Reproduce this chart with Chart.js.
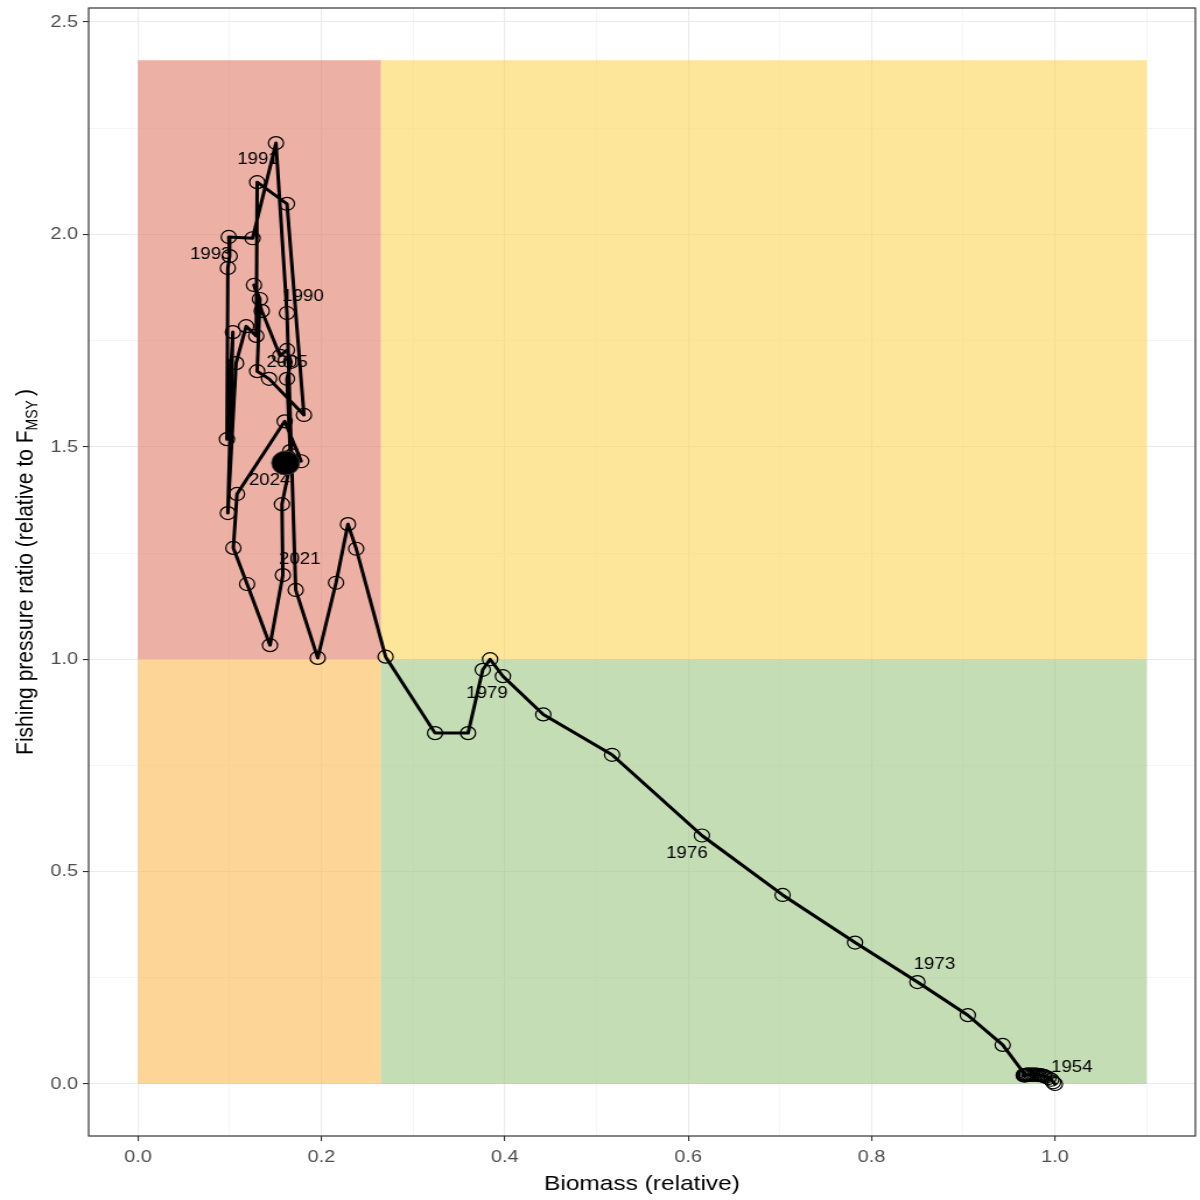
<!DOCTYPE html>
<html>
<head>
<meta charset="utf-8">
<script src="https://cdn.jsdelivr.net/npm/chart.js@4.4.0/dist/chart.umd.min.js"></script>
<style>
  html, body { margin: 0; padding: 0; background: #fff; }
</style>
</head>
<body>
<canvas id="kobe" width="1029" height="1200" style="display:block;width:1200px;height:1200px;"></canvas>
<script>
// Kobe plot: fishing pressure vs biomass, one point per year

const years = [];
for (let yr = 1950; yr <= 2024; yr++) years.push(yr);

const biomass = [
    1.000, 0.998, 0.996, 0.993, 0.990, 0.988, 0.986, 0.984, 0.982, 0.980,
    0.978, 0.976, 0.974, 0.972, 0.970, 0.969, 0.968, 0.967, 0.966, 0.966,
    0.968, 0.943, 0.905, 0.850, 0.782, 0.703, 0.615, 0.517, 0.442, 0.398,
    0.384, 0.376, 0.360, 0.324, 0.270, 0.238, 0.229, 0.216, 0.196, 0.172,
    0.1625, 0.1505, 0.125, 0.099, 0.100, 0.098, 0.097, 0.1035, 0.098, 0.107,
    0.118, 0.129, 0.130, 0.1625, 0.181, 0.143, 0.130, 0.133, 0.1265, 0.135,
    0.155, 0.1625, 0.167, 0.1625, 0.166, 0.178, 0.160, 0.108, 0.104, 0.119,
    0.144, 0.158, 0.157, 0.168, 0.161
];

const fishing = [
    0.000, 0.004, 0.010, 0.014, 0.017, 0.019, 0.020, 0.021, 0.021, 0.022,
    0.022, 0.022, 0.022, 0.022, 0.022, 0.022, 0.021, 0.021, 0.021, 0.020,
    0.020, 0.092, 0.162, 0.240, 0.333, 0.445, 0.585, 0.775, 0.870, 0.960,
    1.000, 0.975, 0.826, 0.826, 1.006, 1.260, 1.318, 1.180, 1.003, 1.163,
    1.815, 2.215, 1.991, 1.994, 1.949, 1.921, 1.518, 1.770, 1.344, 1.697,
    1.784, 1.761, 2.123, 2.072, 1.575, 1.660, 1.678, 1.848, 1.881, 1.820,
    1.714, 1.728, 1.700, 1.660, 1.490, 1.466, 1.560, 1.389, 1.262, 1.177,
    1.033, 1.198, 1.365, 1.480, 1.462
];

// status zones: biomass breaks, fishing breaks
const zoneX = [0, 0.265, 1.1];
const zoneY = [0, 1, 2.41];

const xTicks = [0, 0.1, 0.2, 0.3, 0.4, 0.5, 0.6, 0.7, 0.8, 0.9, 1.0, 1.1];
const yTicks = [0, 0.25, 0.5, 0.75, 1.0, 1.25, 1.5, 1.75, 2.0, 2.25, 2.5];

const labelYears = [1954, 1973, 1976, 1979, 1990, 1991, 1993, 2005, 2021, 2024];

// picture was stretched sideways when it was saved
const SX = 1200 / 1029;
const FONT = '"Liberation Sans", Arial, Helvetica, sans-serif';

// where the repelled labels sit relative to their point (screen px)
const labelNudge = {
    1954: [26, -9], 1973: [17, -17], 1976: [-15, 18], 1979: [-16, 17],
    1990: [16, -16], 1991: [-18, 17], 1993: [-18, 18], 2005: [18, -16],
    2021: [17, -16], 2024: [-16, 18]
};

const zoneColours = [
    ['rgba(252,185,82,0.6)', 'rgba(158,198,132,0.6)'],   // F < Fmsy
    ['rgba(225,123,103,0.6)', 'rgba(252,212,87,0.6)']    // F > Fmsy
];

const isMajorX = v => Math.abs(v * 5 - Math.round(v * 5)) < 1e-6;
const isMajorY = v => Math.abs(v * 2 - Math.round(v * 2)) < 1e-6;

const noOverhang = s => {
    s.paddingLeft = 0; s.paddingRight = 0;
    s.paddingTop = 0; s.paddingBottom = 0;
};

const kobePlugin = {
    id: 'kobe',
    beforeDatasetsDraw(chart) {
        const { ctx, chartArea: a, scales: { x, y } } = chart;
        ctx.save();
        ctx.beginPath();
        ctx.rect(a.left, a.top, a.width, a.height);
        ctx.clip();
        for (let j = 0; j < 2; j++) {
            for (let i = 0; i < 2; i++) {
                const x0 = x.getPixelForValue(zoneX[i]), x1 = x.getPixelForValue(zoneX[i + 1]);
                const y0 = y.getPixelForValue(zoneY[j]), y1 = y.getPixelForValue(zoneY[j + 1]);
                ctx.fillStyle = zoneColours[j][i];
                ctx.fillRect(x0, y1, x1 - x0, y0 - y1);
            }
        }
        ctx.font = '16px ' + FONT;
        ctx.fillStyle = '#000';
        ctx.textAlign = 'center';
        ctx.textBaseline = 'middle';
        labelYears.forEach(yr => {
            const k = years.indexOf(yr);
            const n = labelNudge[yr];
            const px = x.getPixelForValue(biomass[k]) + n[0] / SX;
            const py = y.getPixelForValue(fishing[k]) + n[1];
            ctx.fillText(String(yr), px, py);
        });
        ctx.restore();
    },
    afterDraw(chart) {
        const { ctx, chartArea: a } = chart;
        ctx.save();
        ctx.strokeStyle = '#333333';
        ctx.lineWidth = 1.2;
        ctx.strokeRect(a.left, a.top, a.width, a.height);

        ctx.fillStyle = '#000';
        ctx.font = '21px ' + FONT;
        ctx.textAlign = 'center';
        ctx.textBaseline = 'alphabetic';
        ctx.fillText('Biomass (relative)', (a.left + a.right) / 2, 1190);

        // y title with subscript
        const main = 'Fishing pressure ratio (relative to F';
        const sub = 'MSY';
        const close = ')';
        ctx.font = '21px ' + FONT;
        const w1 = ctx.measureText(main).width;
        const w3 = ctx.measureText(close).width;
        ctx.font = '14px ' + FONT;
        const w2 = ctx.measureText(sub).width;
        const gap = 4;
        const total = w1 + w2 + gap + w3;
        ctx.translate(27.5, (a.top + a.bottom) / 2);
        ctx.rotate(-Math.PI / 2);
        ctx.textAlign = 'left';
        let cx = -total / 2;
        ctx.font = '21px ' + FONT;
        ctx.fillText(main, cx, 0);
        cx += w1;
        ctx.font = '14px ' + FONT;
        ctx.fillText(sub, cx, 4);
        cx += w2 + gap;
        ctx.font = '21px ' + FONT;
        ctx.fillText(close, cx, 0);
        ctx.restore();
    }
};

const points = years.map((yr, i) => ({ x: biomass[i], y: fishing[i] }));
const last = points.length - 1;

const kobeChart = new Chart(document.getElementById('kobe').getContext('2d'), {
    type: 'scatter',
    data: {
        datasets: [{
            data: [points[last]],
            pointRadius: 12,
            pointBackgroundColor: '#000',
            pointBorderColor: 'rgba(60,60,60,0.9)',
            pointBorderWidth: 1,
            order: 1
        }, {
            data: points,
            showLine: true,
            borderColor: '#000',
            borderWidth: 3,
            borderJoinStyle: 'round',
            borderCapStyle: 'round',
            pointRadius: 6.5,
            pointBorderWidth: 1.2,
            pointBorderColor: '#000',
            pointBackgroundColor: 'rgba(0,0,0,0)',
            order: 2
        }]
    },
    options: {
        responsive: false,
        animation: false,
        devicePixelRatio: 1,
        layout: { autoPadding: false, padding: { top: 8, right: 4, left: 0, bottom: 0 } },
        plugins: { legend: { display: false }, tooltip: { enabled: false } },
        scales: {
            x: {
                type: 'linear',
                min: -0.0538,
                max: 1.1531,
                afterBuildTicks: s => { s.ticks = xTicks.map(v => ({ value: v })); },
                afterFit: s => { s.height = 64; noOverhang(s); },
                border: { display: false },
                grid: {
                    color: c => isMajorX(c.tick.value) ? '#EBEBEB' : '#F3F3F3',
                    lineWidth: c => isMajorX(c.tick.value) ? 1.1 : 0.8,
                    tickColor: c => isMajorX(c.tick.value) ? '#333333' : 'rgba(0,0,0,0)',
                    tickLength: 5,
                    tickWidth: 1.1
                },
                ticks: {
                    autoSkip: false,
                    maxRotation: 0,
                    padding: 6,
                    color: '#4D4D4D',
                    font: { size: 17, family: FONT },
                    callback: v => isMajorX(v) ? v.toFixed(1) : ''
                }
            },
            y: {
                type: 'linear',
                min: -0.1224,
                max: 2.533,
                afterBuildTicks: s => { s.ticks = yTicks.map(v => ({ value: v })); },
                afterFit: s => { s.width = 76; noOverhang(s); },
                border: { display: false },
                grid: {
                    color: c => isMajorY(c.tick.value) ? '#EBEBEB' : '#F3F3F3',
                    lineWidth: c => isMajorY(c.tick.value) ? 1.1 : 0.8,
                    tickColor: c => isMajorY(c.tick.value) ? '#333333' : 'rgba(0,0,0,0)',
                    tickLength: 5,
                    tickWidth: 1.1
                },
                ticks: {
                    autoSkip: false,
                    padding: 4,
                    color: '#4D4D4D',
                    font: { size: 17, family: FONT },
                    callback: v => isMajorY(v) ? v.toFixed(1) : ''
                }
            }
        }
    },
    plugins: [kobePlugin]
});
</script>
</body>
</html>
